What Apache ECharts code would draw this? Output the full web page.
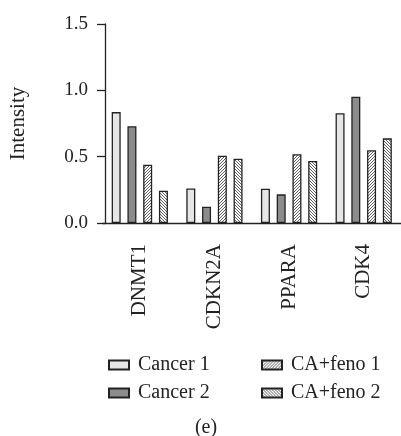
<!DOCTYPE html>
<html>
<head>
<meta charset="utf-8">
<script src="https://cdn.jsdelivr.net/npm/echarts@6/dist/echarts.min.js"></script>
<style>
html,body{margin:0;padding:0;background:#fff;}
#c{width:401px;height:436px;}
</style>
</head>
<body>
<div id="c"></div>
<script>
var categories = ['DNMT1', 'CDKN2A', 'PPARA', 'CDK4'];
var seriesNames = ['Cancer 1', 'Cancer 2', 'CA+feno 1', 'CA+feno 2'];
var cancer1 = [0.836, 0.26, 0.259, 0.827];
var cancer2 = [0.73, 0.123, 0.216, 0.952];
var caFeno1 = [0.44, 0.507, 0.518, 0.548];
var caFeno2 = [0.243, 0.485, 0.467, 0.638];
var yTicks = [0, 0.5, 1.0, 1.5];

var FONT = "'Liberation Serif', 'Times New Roman', serif";

function hatch(dir) {
  var s = 6;
  var cv = document.createElement('canvas');
  cv.width = s; cv.height = s;
  var ctx = cv.getContext('2d');
  ctx.fillStyle = '#ffffff';
  ctx.fillRect(0, 0, s, s);
  ctx.strokeStyle = '#5e5e5e';
  ctx.lineWidth = 1;
  for (var k = -s; k <= 2 * s; k += 3) {
    ctx.beginPath();
    if (dir > 0) { ctx.moveTo(k, s); ctx.lineTo(k + s, 0); }
    else { ctx.moveTo(k, 0); ctx.lineTo(k + s, s); }
    ctx.stroke();
  }
  return { image: cv, repeat: 'repeat' };
}

var fills = ['#e6e6e6', '#8c8c8c', hatch(1), hatch(-1)];
var dataSets = [cancer1, cancer2, caFeno1, caFeno2];

var chart = echarts.init(document.getElementById('c'), null, { renderer: 'canvas' });

var series = dataSets.map(function (d, i) {
  return {
    name: seriesNames[i],
    type: 'bar',
    data: d,
    barWidth: 9,
    barGap: '75%',
    itemStyle: { color: fills[i], borderColor: '#222', borderWidth: 1.3 }
  };
});

chart.setOption({
  animation: false,
  backgroundColor: '#ffffff',
  textStyle: { fontFamily: FONT },
  grid: { left: 102.5, top: 24, width: 305, height: 199, containLabel: false },
  xAxis: {
    type: 'category',
    data: categories,
    axisLine: { lineStyle: { color: '#222', width: 1.3 } },
    axisTick: { alignWithLabel: true, length: 7, lineStyle: { color: '#222', width: 1.3 } },
    axisLabel: { rotate: 90, margin: 21, fontSize: 21, color: '#222', fontFamily: FONT }
  },
  yAxis: {
    type: 'value',
    min: 0, max: 1.5, interval: 0.5,
    offset: -2.5,
    name: 'Intensity',
    nameLocation: 'middle',
    nameGap: 76,
    nameRotate: 90,
    nameTextStyle: { fontSize: 21, color: '#222', fontFamily: FONT },
    splitLine: { show: false },
    axisLine: { show: true, lineStyle: { color: '#222', width: 1.3 } },
    axisTick: { show: true, length: 8, lineStyle: { color: '#222', width: 1.3 } },
    axisLabel: {
      margin: 17, fontSize: 19, color: '#222', fontFamily: FONT,
      formatter: function (v) { return v.toFixed(1); }
    }
  },
  legend: [
    {
      data: [seriesNames[0], seriesNames[1]],
      orient: 'vertical', left: 103, top: 350,
      itemWidth: 20, itemHeight: 9, itemGap: 8,
      icon: 'rect',
      textStyle: { fontSize: 20, color: '#222', fontFamily: FONT, padding: [0, 0, 0, 4] }
    },
    {
      data: [seriesNames[2], seriesNames[3]],
      orient: 'vertical', left: 256, top: 350,
      itemWidth: 20, itemHeight: 9, itemGap: 8,
      icon: 'rect',
      textStyle: { fontSize: 20, color: '#222', fontFamily: FONT, padding: [0, 0, 0, 4] }
    }
  ],
  graphic: [{
    type: 'text', x: 206, y: 428,
    style: { text: '(e)', font: '20px ' + FONT, fill: '#222', textAlign: 'center', textVerticalAlign: 'middle' }
  }],
  series: series
});
</script>
</body>
</html>
